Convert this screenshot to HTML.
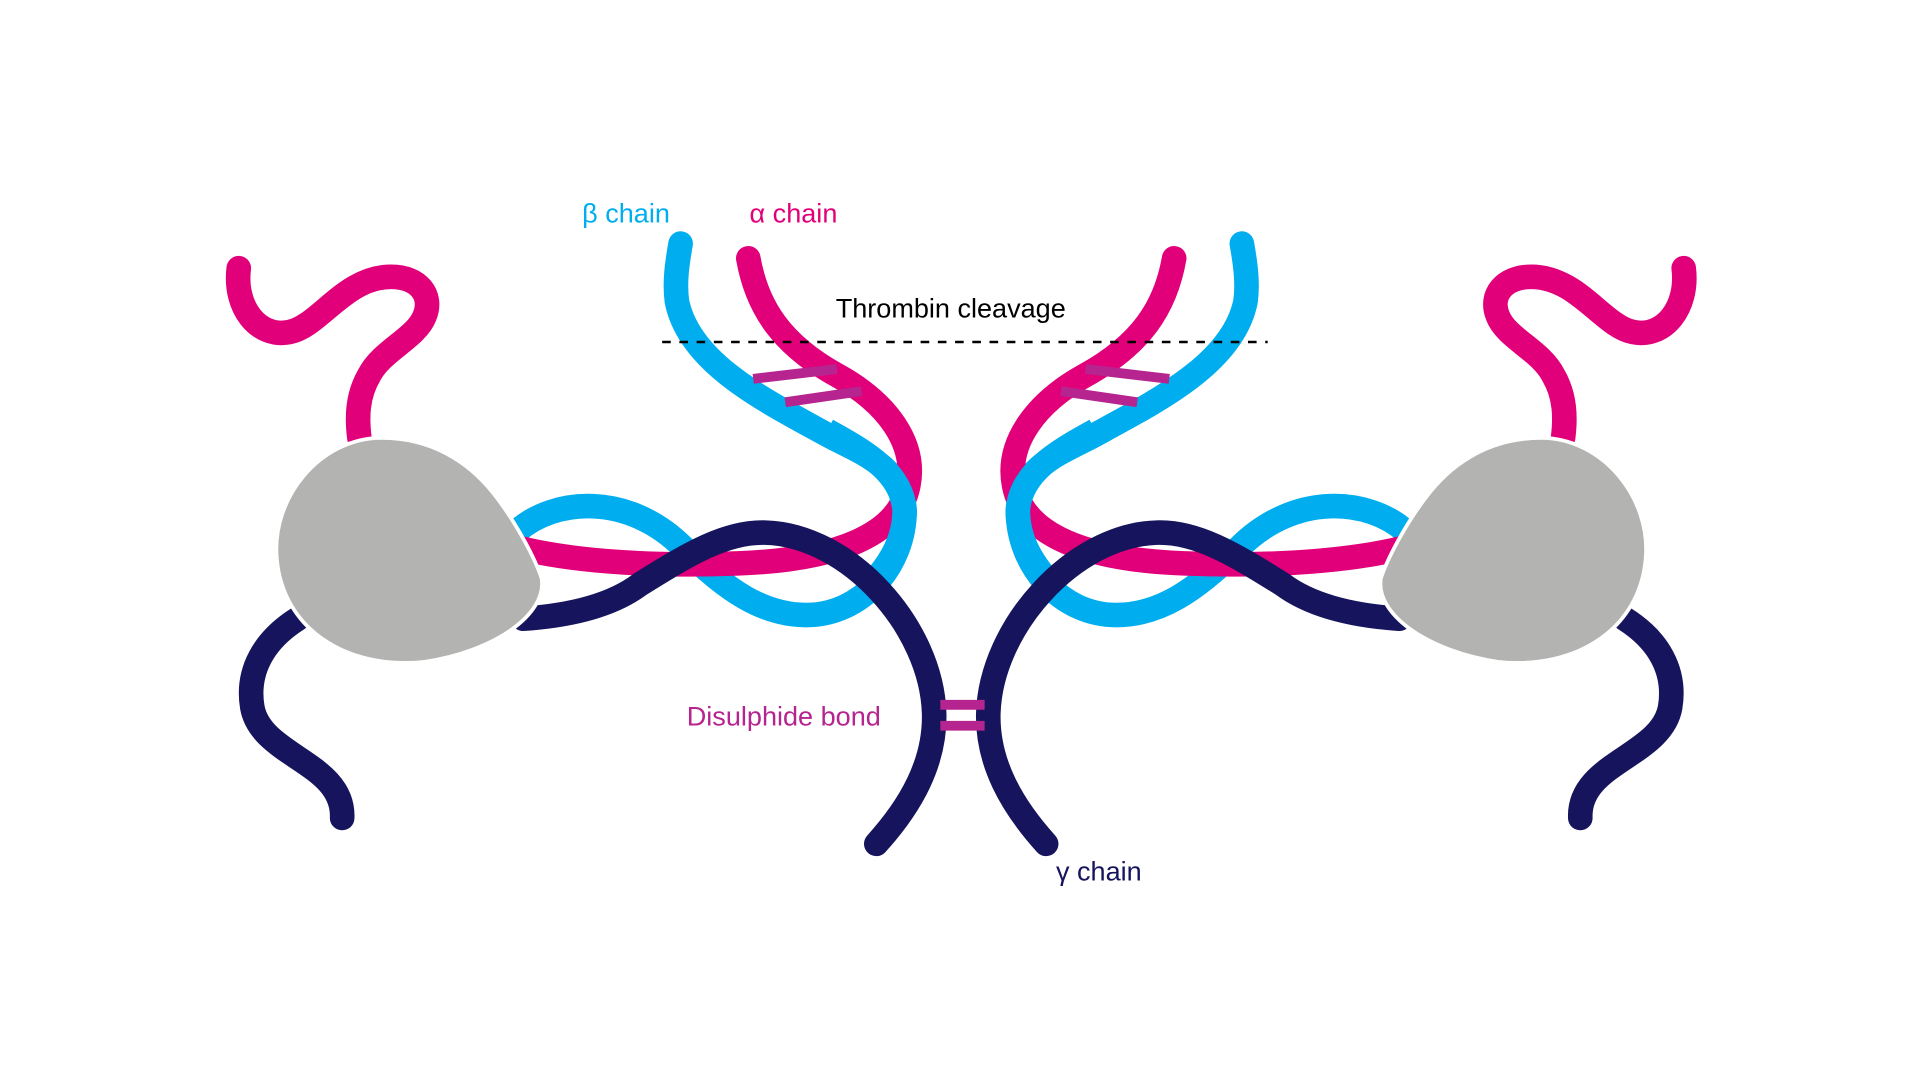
<!DOCTYPE html>
<html><head><meta charset="utf-8"><style>
html,body{margin:0;padding:0;background:#fff;width:1920px;height:1080px;overflow:hidden}
svg{display:block}
text{font-family:"Liberation Sans",sans-serif;font-size:22px}
</style></head><body>
<svg width="1920" height="1080" viewBox="0 0 1560 878" preserveAspectRatio="none">
<defs>
<g id="half">
  <path d="M194,218 C190,250 210,275 235,270 C260,265 280,225 318,225 C340,225 352,240 345,257 C338,275 310,285 300,305 C290,322 290,340 292,356" fill="none" stroke="#e2007a" stroke-width="20" stroke-linecap="round"/>
  <path d="M242,503 C215,520 200,545 205,575 C212,615 280,620 278,665" fill="none" stroke="#16145c" stroke-width="20" stroke-linecap="round"/>
  <path d="M420,432 C450,405 510,400 555,445 C590,480 620,500 655,500 C700,500 735,460 735,415 C733,380 700,368 675,355 C620,325 560,295 550,245 C548,230 550,215 553,198" fill="none" stroke="#00aeef" stroke-width="20" stroke-linecap="round"/>
  <path d="M608,210 C615,250 635,280 680,305 C720,327 745,360 738,395 C730,435 680,455 600,458 C520,461 460,455 420,445" fill="none" stroke="#e2007a" stroke-width="20" stroke-linecap="round"/>
  <path d="M672,350 C705,368 733,385 735,415 C735,440 722,460 705,478" fill="none" stroke="#00aeef" stroke-width="20"/>
  <path d="M425,503 C470,500 500,490 520,475 C560,450 590,432 622,433 C690,435 757,510 759,580 C760,620 740,655 712,686" fill="none" stroke="#16145c" stroke-width="20" stroke-linecap="round"/>
  <line x1="612" y1="308" x2="680" y2="300" stroke="#b5248f" stroke-width="8"/>
  <line x1="638" y1="327" x2="700" y2="318" stroke="#b5248f" stroke-width="8"/>
  <path d="M310,356 C350,356 380,375 400,400 C420,425 435,455 440,470 C445,500 400,530 345,538 C280,545 230,510 225,455 C220,405 260,356 310,356 Z" fill="#b3b4b2" stroke="#fff" stroke-width="3"/>
</g>
</defs>
<use href="#half"/>
<use href="#half" transform="translate(1562,0) scale(-1,1)"/>
<line x1="764" y1="573" x2="800" y2="573" stroke="#b5248f" stroke-width="8"/>
<line x1="764" y1="590" x2="800" y2="590" stroke="#b5248f" stroke-width="8"/>
<line x1="538" y1="278" x2="1030" y2="278" stroke="#000" stroke-width="2" stroke-dasharray="7,7"/>
<text x="473" y="181" fill="#00aeef">β chain</text>
<text x="609" y="181" fill="#e2007a">α chain</text>
<text x="679" y="258" fill="#000">Thrombin cleavage</text>
<text x="558" y="590" fill="#b5248f">Disulphide bond</text>
<text x="858" y="716" fill="#16145c">γ chain</text>
</svg>
</body></html>
